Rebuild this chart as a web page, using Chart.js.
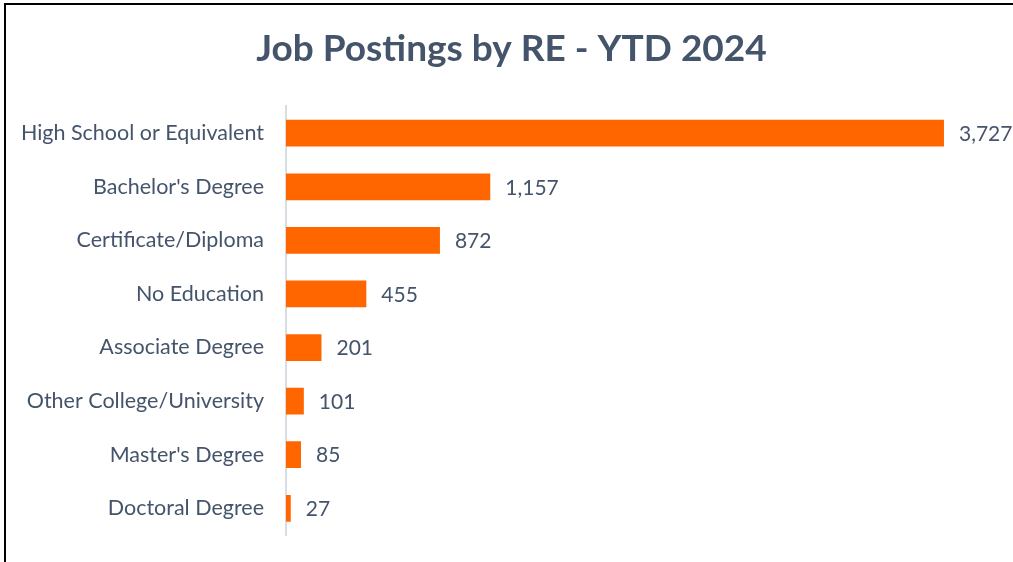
<!DOCTYPE html>
<html>
<head>
<meta charset="utf-8">
<script src="https://cdn.jsdelivr.net/npm/chart.js@4"></script>
<style>
  html, body { margin: 0; padding: 0; background: #fff; }
  #wrap { position: relative; width: 1013px; height: 562px; overflow: hidden; }
  #frame { position: absolute; left: 4px; top: 3px; width: 1100px; height: 700px;
           border-left: 2px solid #000; border-top: 2px solid #000; pointer-events: none; }
  canvas { position: absolute; left: 0; top: 0; }
</style>
</head>
<body>
<div id="wrap">
  <canvas id="jobChart" width="1013" height="562"></canvas>
  <div id="frame"></div>
</div>
<script>
// education levels (top to bottom)
const educationLevels = [
  'High School or Equivalent',
  "Bachelor's Degree",
  'Certificate/Diploma',
  'No Education',
  'Associate Degree',
  'Other College/University',
  "Master's Degree",
  'Doctoral Degree'
];
const jobPostings = [3727, 1157, 872, 455, 201, 101, 85, 27];

const textColor = '#44546A';
const barColor = '#FF6600';

// draws the value next to each bar
const valueLabels = {
  id: 'valueLabels',
  afterDatasetsDraw(chart) {
    const ctx = chart.ctx;
    const meta = chart.getDatasetMeta(0);
    ctx.save();
    ctx.font = '21px Lato';
    ctx.fillStyle = textColor;
    ctx.textAlign = 'left';
    ctx.textBaseline = 'middle';
    meta.data.forEach((bar, i) => {
      ctx.fillText(jobPostings[i].toLocaleString('en-US'), bar.x + 15, bar.y + 1);
    });
    ctx.restore();
  }
};

const ctx = document.getElementById('jobChart').getContext('2d');
new Chart(ctx, {
  type: 'bar',
  data: {
    labels: educationLevels,
    datasets: [{
      label: 'Job Postings',
      data: jobPostings,
      backgroundColor: barColor,
      barPercentage: 0.5,
      categoryPercentage: 1.0
    }]
  },
  options: {
    indexAxis: 'y',
    responsive: false,
    animation: false,
    layout: { padding: { left: 10, right: 0, top: 0, bottom: 20 } },
    plugins: {
      legend: { display: false },
      tooltip: { enabled: false },
      title: {
        display: true,
        text: 'Job Postings by RE - YTD 2024',
        color: textColor,
        font: { family: 'Lato', size: 37, weight: 'bold' },
        padding: { top: 27, bottom: 35 }
      }
    },
    scales: {
      x: {
        display: false,
        min: 0,
        max: 4118
      },
      y: {
        grid: { display: false },
        border: { display: true, color: '#D9DCE1', width: 2 },
        ticks: {
          color: textColor,
          font: { family: 'Lato', size: 21.5 },
          padding: 14
        },
        afterFit(scale) { scale.width = 276; }
      }
    }
  },
  plugins: [valueLabels]
});
</script>
</body>
</html>
